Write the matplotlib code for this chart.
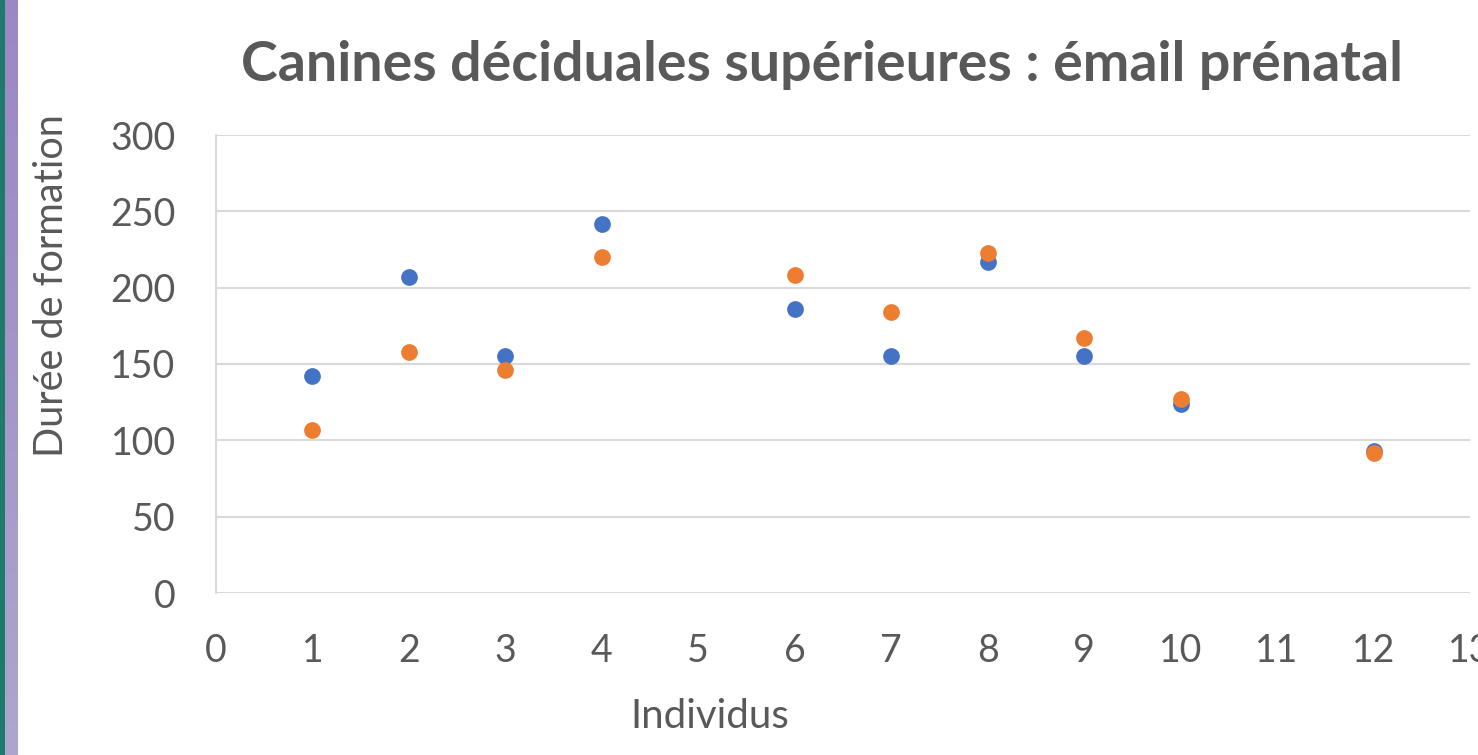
import matplotlib
matplotlib.use("Agg")
import matplotlib.pyplot as plt
from matplotlib.patches import Rectangle
import numpy as np

individus_bleu = [1, 2, 3, 4, 6, 7, 8, 9, 10, 12]
duree_bleu = [142, 207, 155, 242, 186, 155, 217, 155, 124, 93]
individus_orange = [1, 2, 3, 4, 6, 7, 8, 9, 10, 12]
duree_orange = [107, 158, 146, 220, 208, 184, 223, 167, 127, 92]
x_ticks = list(range(0, 14))
y_ticks = [0, 50, 100, 150, 200, 250, 300]

plt.rcParams['font.family'] = ['Lato', 'DejaVu Sans']
grey = '#595959'

fig = plt.figure(figsize=(14.78, 7.55), dpi=100)
fig.patch.set_facecolor('white')
# left decorative strip
fig.patches.append(Rectangle((0, 0), 5/1478, 1, transform=fig.transFigure, color='#1f7a6b', zorder=0))
n = 50
for i in range(n):
    t = i / n
    c1 = np.array([0x9b, 0x87, 0xc4]) / 255
    c2 = np.array([0xad, 0xa6, 0xce]) / 255
    c = c1 * (1 - t) + c2 * t
    fig.patches.append(Rectangle((5/1478, 1 - (i + 1) / n), 13/1478, 1 / n + 0.001,
                                 transform=fig.transFigure, color=c, zorder=0, lw=0))

ax = fig.add_axes([216/1478, 162/755, (1470-216)/1478, (593-135)/755])
ax.scatter(individus_bleu, duree_bleu, s=145, color='#4472c4', zorder=3, linewidths=0)
ax.scatter(individus_orange, duree_orange, s=145, color='#ed7d31', zorder=4, linewidths=0)

ax.set_xlim(0, 13)
ax.set_ylim(0, 300)
ax.set_xticks(x_ticks)
ax.set_yticks(y_ticks)
ax.tick_params(axis='y', length=0, labelsize=27, colors=grey, pad=29)
ax.tick_params(axis='x', length=0, labelsize=27, colors=grey, pad=29)
ax.grid(axis='y', color='#d9d9d9', linewidth=1.5, zorder=0)
for s in ['top', 'right', 'bottom']:
    ax.spines[s].set_visible(False)
ax.spines['left'].set_color('#d9d9d9')
ax.spines['left'].set_linewidth(1.5)
ax.set_axisbelow(True)

fig.text(710/1478, 1 - 717/755, 'Individus', fontsize=29, color=grey, ha='center', va='center')
fig.text(52/1478, 1 - 286/755, 'Durée de formation', fontsize=28.5, color=grey,
         ha='center', va='center', rotation=90)
fig.text(822/1478, 1 - 65/755, 'Canines déciduales supérieures : émail prénatal',
         fontsize=40, fontweight='bold', color=grey, ha='center', va='center')

fig.savefig('out.png', dpi=100)
